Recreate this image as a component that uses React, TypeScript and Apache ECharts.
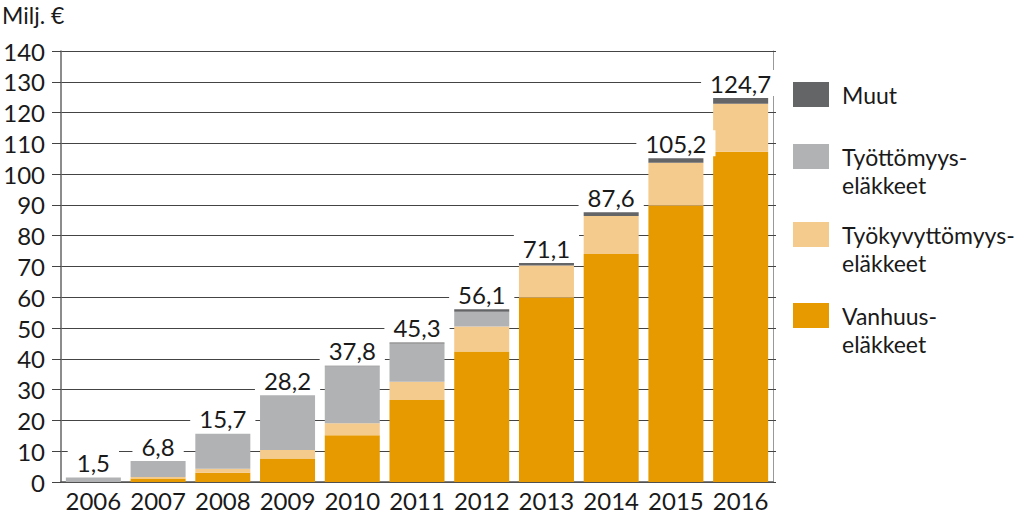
import React, { useEffect, useRef } from "react";
import * as echarts from "echarts";

const YEARS = ["2006", "2007", "2008", "2009", "2010", "2011", "2012", "2013", "2014", "2015", "2016"];
const VANHUUS = [0, 1.1, 3.0, 7.6, 15.2, 26.6, 42.4, 59.9, 74.1, 89.8, 107.3];
const TYOKYVYTTOMYYS = [0, 0.5, 1.3, 2.8, 3.9, 6.0, 8.1, 10.4, 12.3, 13.9, 15.6];
const TYOTTOMYYS = [1.5, 5.2, 11.4, 17.8, 18.5, 12.4, 4.8, 0, 0, 0, 0];
const MUUT = [0, 0, 0, 0, 0.2, 0.3, 0.8, 0.8, 1.2, 1.5, 1.8];
const TOTALS = ["1,5", "6,8", "15,7", "28,2", "37,8", "45,3", "56,1", "71,1", "87,6", "105,2", "124,7"];

const NAMES = {
  muut: ["Muut"],
  tyottomyys: ["Työttömyys-", "eläkkeet"],
  tyokyvyttomyys: ["Työkyvyttömyys-", "eläkkeet"],
  vanhuus: ["Vanhuus-", "eläkkeet"],
};

const COLORS = {
  muut: "#646567",
  tyottomyys: "#B1B2B4",
  tyokyvyttomyys: "#F5CA8D",
  vanhuus: "#E69A00",
};

const FONT = "Lato, 'Open Sans', sans-serif";
const TEXT = "#1a1a1a";

export default function App() {
  const ref = useRef<HTMLDivElement>(null);
  useEffect(() => {
    if (!ref.current) return;
    const chart = echarts.init(ref.current, null, { renderer: "svg" });
    const barBase = {
      type: "bar" as const,
      stack: "total",
      barCategoryGap: "15%",
    };
    const legendItems = [
      { key: "muut", y: 82 },
      { key: "tyottomyys", y: 144 },
      { key: "tyokyvyttomyys", y: 222 },
      { key: "vanhuus", y: 303 },
    ];
    const graphics: any[] = [
      {
        type: "text",
        x: 2,
        y: 15,
        style: {
          text: "Milj. €",
          font: `23px ${FONT}`,
          lineHeight: 23,
          fill: TEXT,
          verticalAlign: "middle",
        },
      },
    ];
    legendItems.forEach((it) => {
      graphics.push({
        type: "rect",
        shape: { x: 793, y: it.y, width: 36, height: 25 },
        style: { fill: (COLORS as any)[it.key] },
      });
      ((NAMES as any)[it.key] as string[]).forEach((line, i) => {
        graphics.push({
          type: "text",
          x: 842,
          y: it.y + 12.5 + i * 28.5,
          style: {
            text: line,
            font: `23px ${FONT}`,
            lineHeight: 26,
            fill: TEXT,
            verticalAlign: "middle",
          },
        });
      });
    });

    chart.setOption({
      animation: false,
      textStyle: { fontFamily: FONT },
      grid: { left: 61, top: 51, width: 712, height: 431, containLabel: false },
      xAxis: {
        type: "category",
        data: YEARS,
        axisLine: { show: true, lineStyle: { color: "#555", width: 1.5 } },
        axisTick: { show: false },
        axisLabel: {
          interval: 0,
          fontSize: 24,
          lineHeight: 24,
          color: TEXT,
          margin: 6,
          fontFamily: FONT,
        },
      },
      yAxis: [
        {
          type: "value",
          min: 0,
          max: 140,
          interval: 10,
          axisLine: { show: true, lineStyle: { color: "#666", width: 1.5 } },
          axisTick: { show: true, length: 9, lineStyle: { color: "#444" } },
          splitLine: { show: true, lineStyle: { color: "#444", width: 1 } },
          axisLabel: { fontSize: 24, lineHeight: 24, color: TEXT, margin: 16, fontFamily: FONT },
        },
        {
          type: "value",
          position: "right",
          min: 0,
          max: 140,
          interval: 10,
          axisLine: { show: true, lineStyle: { color: "#999", width: 1 } },
          axisTick: { show: true, length: 3, lineStyle: { color: "#444" } },
          splitLine: { show: false },
          axisLabel: { show: false },
        },
      ],
      series: [
        { ...barBase, name: "Vanhuus", data: VANHUUS, itemStyle: { color: COLORS.vanhuus } },
        { ...barBase, name: "Työkyvyttömyys", data: TYOKYVYTTOMYYS, itemStyle: { color: COLORS.tyokyvyttomyys } },
        { ...barBase, name: "Työttömyys", data: TYOTTOMYYS, itemStyle: { color: COLORS.tyottomyys } },
        {
          ...barBase,
          name: "Muut",
          data: MUUT,
          itemStyle: { color: COLORS.muut },
          label: {
            show: true,
            position: "top",
            distance: 2,
            formatter: (p: any) => TOTALS[p.dataIndex],
            fontSize: 24,
            lineHeight: 26,
            fontFamily: FONT,
            color: TEXT,
            backgroundColor: "#fff",
            padding: [0, 9, 0, 9],
          },
        },
      ],
      graphic: graphics,
    });
    return () => chart.dispose();
  }, []);
  return (
    <div
      ref={ref}
      style={{ position: "fixed", left: 0, top: 0, width: 1024, height: 515, background: "#fff" }}
    />
  );
}
